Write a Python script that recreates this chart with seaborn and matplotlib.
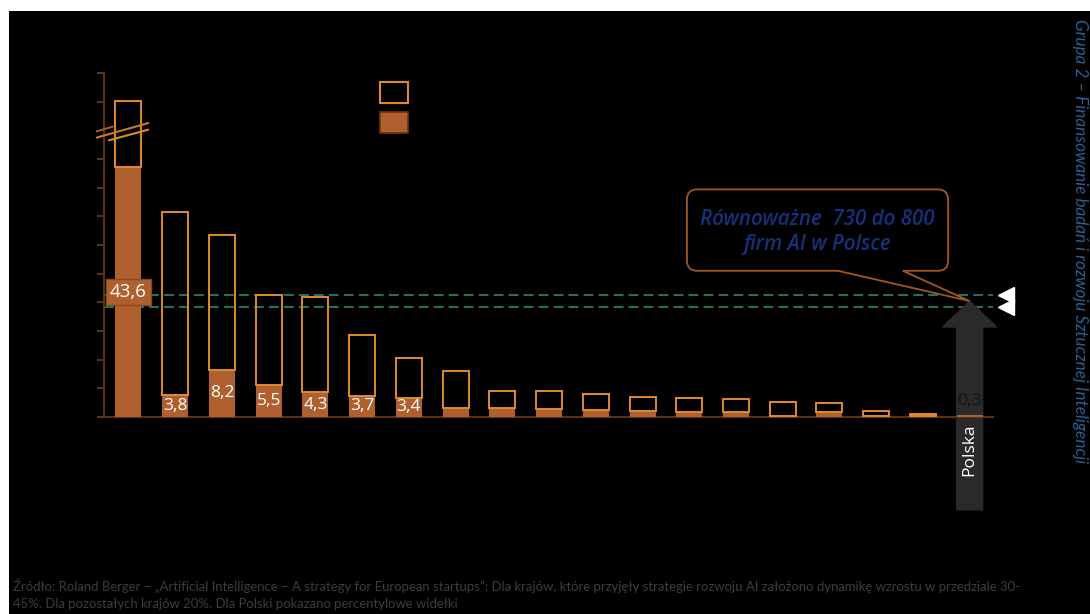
import numpy as np
import pandas as pd
import matplotlib
matplotlib.use("Agg")
import matplotlib.pyplot as plt
from matplotlib.patches import Rectangle, PathPatch, FancyArrow
from matplotlib.path import Path
import seaborn as sns

# ---------------- data ----------------
kraje = ["", "", "", "", "", "", "", "", "", "", "", "", "", "", "", "", "", "", "Polska"]
stan_obecny = [43.6, 3.8, 8.2, 5.5, 4.3, 3.7, 3.4, 1.6, 1.5, 1.4, 1.3, 1.1, 0.9, 0.8, 0.2, 0.8, 0.2, 0.2, 0.3]
prognoza = [55.2, 35.7, 31.7, 21.3, 20.9, 14.3, 10.3, 8.0, 4.5, 4.6, 4.0, 3.55, 3.4, 3.1, 2.6, 2.4, 1.0, 0.45, np.nan]
opisane = [0, 1, 2, 3, 4, 5, 6, 18]          # bars that carry a value label
polska_zakres = [19.2, 21.25]                 # Poland's percentile band
y_ticks = [0, 5, 10, 15, 20, 25, 30, 35, 40, 45, 55, 60]
y_przerwa = 50                                # where the axis is broken

dymek = "Równoważne  730 do 800\nfirm AI w Polsce"
podpis_pionowy = "Grupa 2 – Finansowanie badań i rozwoju Sztucznej Inteligencji"
zrodlo = ["Źródło: Roland Berger – „Artificial Intelligence – A strategy for European startups”; "
          "Dla krajów, które przyjęły strategie rozwoju AI założono dynamikę wzrostu w przedziale 30-",
          "45%. Dla pozostałych krajów 20%. Dla Polski pokazano percentylowe widełki"]

# ---------------- style ----------------
ORANGE = "#b0602e"
HOLLOW = "#e08b2a"
AXIS = "#5a3214"
TEAL = "#1d7f76"
ARROW = "#2a2a2a"

sns.set_theme(style="white")
plt.rcParams["font.family"] = ["Lato", "DejaVu Sans"]

W, H, DPI = 1090, 614, 100
fig = plt.figure(figsize=(W / DPI, H / DPI), dpi=DPI, facecolor="white")
fig.add_artist(Rectangle((9 / W, 0), 1 - 9 / W, 1 - 11 / H, transform=fig.transFigure,
                         facecolor="black", edgecolor="none", zorder=-10))
ax = fig.add_axes([104 / W, 1 - 417 / H, (993 - 104) / W, (417 - 73) / H])
ax.set_facecolor("none")

df = pd.DataFrame({"poz": np.arange(len(kraje)), "kraj": kraje,
                   "obecny": stan_obecny, "prognoza": prognoza})
BAR_W = 0.556

# current level (filled)
sns.barplot(data=df, x="poz", y="obecny", native_scale=True, width=BAR_W,
            color=ORANGE, saturation=1, linewidth=0, errorbar=None, ax=ax, zorder=3)

# projected range (hollow box stacked on the current level)
dz = df.dropna(subset=["prognoza"]).copy()
dz["zakres"] = dz["prognoza"] - dz["obecny"]
sns.barplot(data=dz, x="poz", y="zakres", bottom=dz["obecny"].to_numpy(), native_scale=True,
            width=BAR_W, fill=False, color=HOLLOW, edgecolor=HOLLOW, linewidth=1.4,
            errorbar=None, ax=ax, zorder=4)

ax.set_xlim(-0.524, 18.5)
ax.set_ylim(0, 60)
ax.set_xticks([])
ax.set_yticks(y_ticks)
ax.set_xlabel("")
ax.set_ylabel("")
ax.tick_params(axis="y", direction="out", length=5.2, width=1.5, color=AXIS, labelleft=False, left=True)
for s in ["top", "right"]:
    ax.spines[s].set_visible(False)
for s in ["left", "bottom"]:
    ax.spines[s].set_color(AXIS)
    ax.spines[s].set_linewidth(1.5)

# axis / bar break marks
hb = BAR_W / 2
ax.plot([-0.68, hb + 0.146], [y_przerwa - 1.27, y_przerwa + 1.27], color="#c87a30", lw=1.5, clip_on=False, zorder=6)
ax.plot([-0.68, -0.338], [y_przerwa - 0.17, y_przerwa + 0.64], color="#a05a28", lw=1.5, clip_on=False, zorder=6)
ax.plot([-0.417, hb + 0.146], [y_przerwa - 1.74, y_przerwa + 0.12], color="#d88a30", lw=1.5, clip_on=False, zorder=6)

# value labels
LABEL_FONT = ["Open Sans", "DejaVu Sans"]
ip = len(kraje) - 1
for i in opisane:
    v = stan_obecny[i]
    txt = f"{v:.1f}".replace(".", ",")
    if i == 0:
        ax.text(i, v / 2, txt, ha="center", va="center", color="white", fontsize=13.5, zorder=7,
                family=LABEL_FONT,
                bbox=dict(boxstyle="square,pad=0.2", facecolor=ORANGE, edgecolor="#8a4a20", lw=1))
    elif i == ip:
        ax.annotate(txt, xy=(i, v), xytext=(0, 10), textcoords="offset points", ha="center",
                    va="center", color="#141414", fontsize=12.5, zorder=7, family=LABEL_FONT,
                    annotation_clip=False)
    else:
        ax.text(i, v / 2, txt, ha="center", va="center", color="white", fontsize=12.5, zorder=7,
                family=LABEL_FONT)

# Poland's band
for y in polska_zakres:
    ax.axhline(y, color=TEAL, lw=1.3, ls=(0, (5.5, 2.8)), zorder=1.5)
ax.plot([18.77, 18.77], polska_zakres, marker="<", ms=11, color="white", ls="none",
        clip_on=False, zorder=8)

mid = float(np.mean(polska_zakres))
base = -16.2
ax.add_patch(FancyArrow(ip, base, 0, mid - base, width=BAR_W, head_width=1.156, head_length=4.53,
                        length_includes_head=True, color=ARROW, clip_on=False, zorder=2))
ax.text(ip, -5.66, kraje[ip], rotation=90, ha="center", va="center", color="white",
        fontsize=12.5, family=LABEL_FONT, zorder=8)

# speech-bubble callout pointing at the band
x0, x1, y0, y1 = 11.95, 17.54, 25.5, 39.7
rx, ry = 0.22, 1.8
xb1, xb2 = 15.18, 16.57
tip = (ip, mid)
verts = [(x0 + rx, y0), (xb1, y0), tip, (xb2, y0), (x1 - rx, y0),
         (x1, y0), (x1, y0 + ry), (x1, y1 - ry),
         (x1, y1), (x1 - rx, y1), (x0 + rx, y1),
         (x0, y1), (x0, y1 - ry), (x0, y0 + ry),
         (x0, y0), (x0 + rx, y0), (x0 + rx, y0)]
codes = [Path.MOVETO, Path.LINETO, Path.LINETO, Path.LINETO, Path.LINETO,
         Path.CURVE3, Path.CURVE3, Path.LINETO,
         Path.CURVE3, Path.CURVE3, Path.LINETO,
         Path.CURVE3, Path.CURVE3, Path.LINETO,
         Path.CURVE3, Path.CURVE3, Path.CLOSEPOLY]
ax.add_patch(PathPatch(Path(verts, codes), facecolor="black", edgecolor="#a0581f", lw=1.3,
                       clip_on=False, zorder=7))
ax.text((x0 + x1) / 2, (y0 + y1) / 2 - 0.3, dymek, ha="center", va="center", color="#17307a",
        fontsize=14.8, fontweight="semibold", fontstyle="italic", linespacing=1.22,
        family=["Open Sans", "DejaVu Sans"], zorder=8)

# legend swatches
fig.add_artist(Rectangle((380 / W, 1 - 103 / H), 28 / W, 21 / H, transform=fig.transFigure,
                         facecolor="none", edgecolor=HOLLOW, lw=1.5))
fig.add_artist(Rectangle((380 / W, 1 - 133 / H), 28 / W, 21 / H, transform=fig.transFigure,
                         facecolor=ORANGE, edgecolor="#6b3412", lw=1.2))

# side caption and source note
fig.text(1080 / W, 1 - 241 / H, podpis_pionowy, rotation=-90, ha="center", va="center",
         color="#2a6090", fontsize=12.3, fontstyle="italic")
fig.text(13 / W, 1 - 586 / H, zrodlo[0], ha="left", va="center", color="#3d3d3d", fontsize=9.45)
fig.text(13 / W, 1 - 604 / H, zrodlo[1], ha="left", va="center", color="#3d3d3d", fontsize=9.45)

fig.savefig("out.png", dpi=DPI, facecolor="white")
